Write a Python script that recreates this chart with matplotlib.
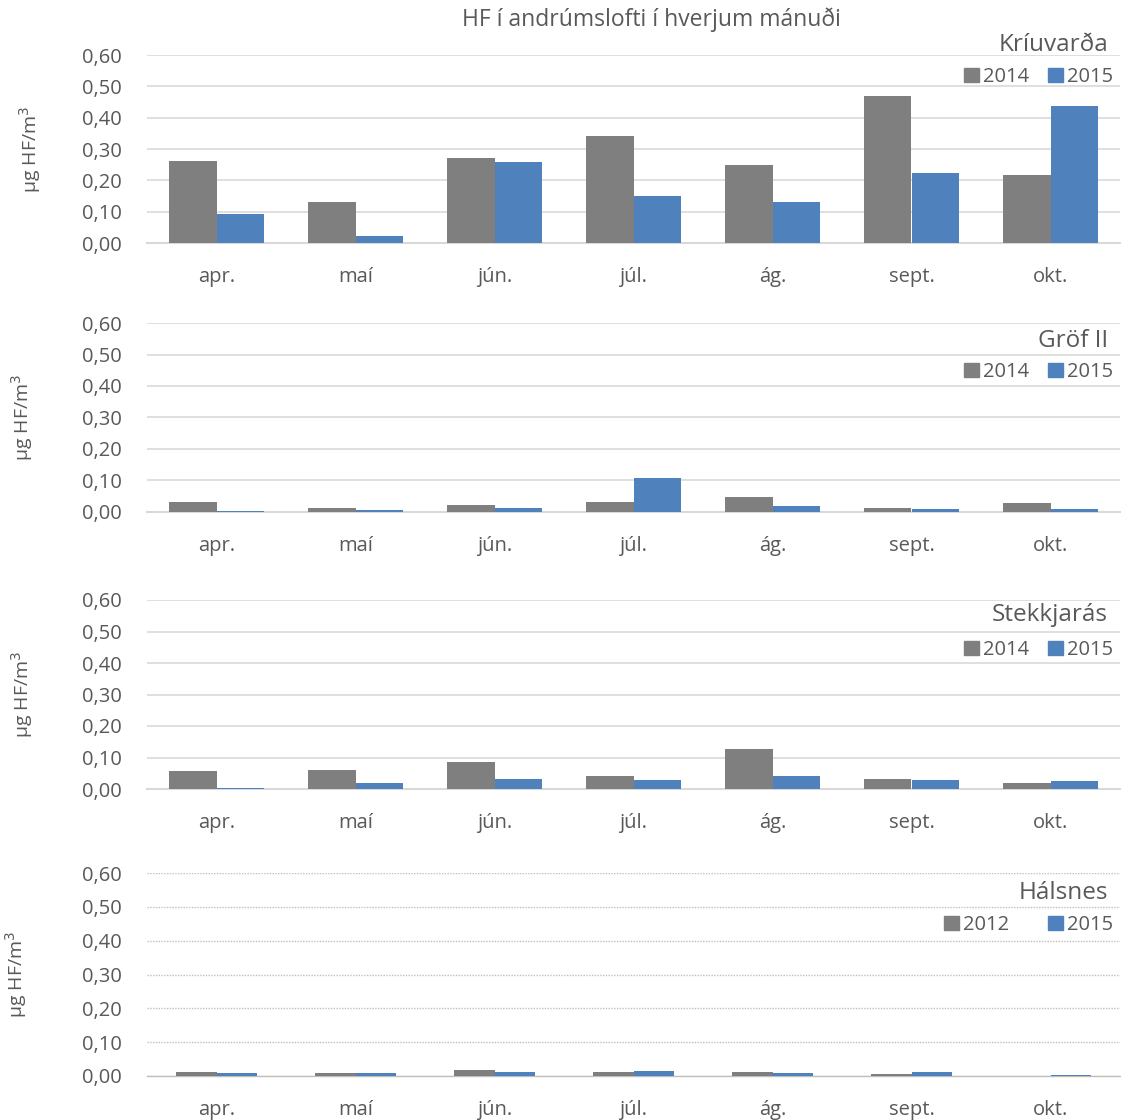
import numpy as np
import matplotlib.pyplot as plt
from matplotlib.patches import Patch

plt.rcParams['font.family'] = ['Open Sans', 'DejaVu Sans']

months = ['apr.', 'maí', 'jún.', 'júl.', 'ág.', 'sept.', 'okt.']

kriuvarda_2014 = [0.262, 0.131, 0.272, 0.342, 0.249, 0.470, 0.217]
kriuvarda_2015 = [0.093, 0.022, 0.259, 0.150, 0.131, 0.224, 0.438]

grof_2014 = [0.033, 0.013, 0.021, 0.033, 0.049, 0.013, 0.030]
grof_2015 = [0.003, 0.007, 0.014, 0.108, 0.019, 0.011, 0.008]

stekk_2014 = [0.058, 0.060, 0.087, 0.042, 0.128, 0.032, 0.020]
stekk_2015 = [0.004, 0.019, 0.032, 0.030, 0.041, 0.029, 0.026]

halsnes_2012 = [0.012, 0.009, 0.018, 0.012, 0.012, 0.005, 0.0]
halsnes_2015 = [0.009, 0.008, 0.013, 0.015, 0.009, 0.012, 0.003]

yticks = [0.0, 0.1, 0.2, 0.3, 0.4, 0.5, 0.6]
ytick_labels = ['0,00', '0,10', '0,20', '0,30', '0,40', '0,50', '0,60']

GRAY = '#7f7f7f'
BLUE = '#4f81bd'
TXT = '#595959'
GRID = '#d9d9d9'

W, H = 1121, 1120
fig = plt.figure(figsize=(W / 100, H / 100), dpi=100)

panels = [
    # name, series a, series b, labels, top px, bottom px, bar width, dotted, ylabel x, colspace
    ('Kríuvarða', kriuvarda_2014, kriuvarda_2015, ('2014', '2015'), 55, 243, 0.345, False, 30, 0.9),
    ('Gröf II', grof_2014, grof_2015, ('2014', '2015'), 323, 512, 0.345, False, 22, 0.9),
    ('Stekkjarás', stekk_2014, stekk_2015, ('2014', '2015'), 600, 789, 0.345, False, 22, 0.9),
    ('Hálsnes', halsnes_2012, halsnes_2015, ('2012', '2015'), 873, 1076, 0.29, True, 16, 1.9),
]

title_y = [45, 341, 615, 893]
legend_y = [77, 372, 650, 925]

x = np.arange(len(months))
left, right = 147, 1120

for i, (name, a, b, labs, top, bot, bw, dotted, ylx, cs) in enumerate(panels):
    ax = fig.add_axes([left / W, 1 - bot / H, (right - left) / W, (bot - top) / H])
    ax.bar(x - bw / 2, a, width=bw, color=GRAY, zorder=3)
    ax.bar(x + bw / 2, b, width=bw, color=BLUE, zorder=3)
    ax.set_xlim(-0.5, len(months) - 0.5)
    ax.set_ylim(0, 0.6)
    ax.set_yticks(yticks)
    ax.set_yticklabels(ytick_labels)
    ax.set_xticks(x)
    ax.set_xticklabels(months)
    ax.tick_params(length=0, colors=TXT, labelsize=14.5)
    ax.tick_params(axis='x', pad=17)
    ax.tick_params(axis='y', pad=18)
    for s in ['top', 'right', 'left']:
        ax.spines[s].set_visible(False)
    if dotted:
        ax.yaxis.grid(True, color='#bfbfbf', linestyle=(0, (1, 1)), linewidth=1)
        ax.spines['bottom'].set_color('#bfbfbf')
        ax.spines['bottom'].set_linestyle((0, (1, 1)))
        ax.spines['bottom'].set_linewidth(1)
    else:
        ax.yaxis.grid(True, color=GRID, linewidth=1.2)
        ax.spines['bottom'].set_color(GRID)
        ax.spines['bottom'].set_linewidth(1.5)
    ax.set_axisbelow(True)
    fig.text(ylx / W, 1 - (top + bot) / 2 / H, 'µg HF/m$^3$', rotation=90,
             ha='center', va='center', color=TXT, fontsize=14)
    fig.text(1108 / W, 1 - title_y[i] / H, name, ha='right', va='center',
             color=TXT, fontsize=17.5)
    handles = [Patch(color=GRAY), Patch(color=BLUE)]
    fig.legend(handles, labs, ncol=2, frameon=False, loc='center right',
               bbox_to_anchor=(1113 / W, 1 - legend_y[i] / H),
               handlelength=0.75, handleheight=0.75, handletextpad=0.2,
               columnspacing=cs, borderaxespad=0, borderpad=0,
               prop={'size': 14.5}, labelcolor=TXT)

fig.text(651 / W, 1 - 20 / H, 'HF í andrúmslofti í hverjum mánuði', ha='center',
         va='center', color=TXT, fontsize=16.5)

fig.savefig('out.png', dpi=100)
